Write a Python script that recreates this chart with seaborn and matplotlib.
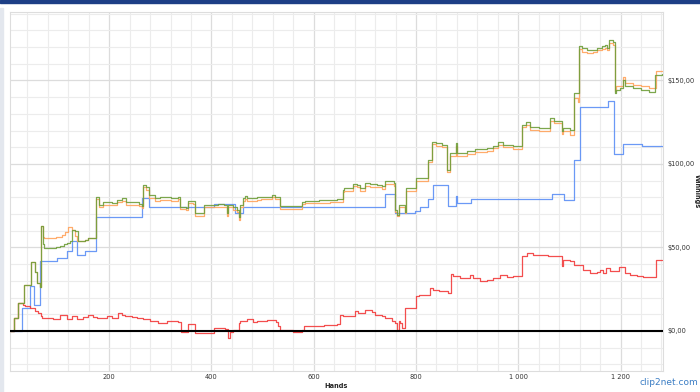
import matplotlib
matplotlib.use("Agg")
import matplotlib.pyplot as plt
from matplotlib.patches import Rectangle
from matplotlib.ticker import MultipleLocator, FixedLocator
import seaborn as sns
import pandas as pd

# ---------------- data ----------------
green_hands = [6, 13, 21, 34, 47, 54, 59, 64, 67, 70, 72, 95, 104, 112, 118, 124, 127, 134, 139, 153,
               159, 170, 175, 180, 188, 205, 215, 225, 232, 250, 258, 264, 266, 272, 277, 290, 300, 320,
               335, 339, 350, 355, 364, 368, 380, 386, 400, 412, 425, 430, 433, 442, 450, 453, 456, 462,
               466, 470, 490, 496, 510, 518, 524, 534, 550, 570, 577, 583, 610, 632, 645, 657, 660, 676,
               684, 691, 700, 710, 723, 733, 740, 756, 759, 762, 767, 778, 781, 800, 824, 831, 840, 850,
               860, 866, 878, 880, 900, 915, 925, 938, 951, 961, 970, 990, 1007, 1015, 1023, 1040, 1062,
               1070, 1085, 1088, 1101, 1109, 1119, 1125, 1135, 1147, 1153, 1163, 1170, 1174, 1178, 1186,
               1189, 1192, 1199, 1205, 1208, 1225, 1240, 1255, 1267, 1282]
green_vals = [0, 8, 16.6, 27.6, 41.1, 35, 28.5, 26.3, 62.6, 52, 49.7, 50.2, 50.6, 51.8, 52.5, 53.6, 60.6,
              59.8, 53.6, 54.5, 55.6, 55.6, 80.5, 75.6, 77.1, 76.8, 78.5, 79.6, 77.1, 77.1, 76.2, 75.1,
              87.4, 86.2, 81.4, 79.6, 80, 79.6, 80.5, 74.5, 73.8, 78, 77.6, 70.6, 70.6, 75.5, 75.5, 75.8,
              75.5, 70.6, 75.5, 74.2, 72.5, 68.1, 75.6, 79.5, 80.9, 79.5, 80, 80.5, 80.5, 81.5, 80.5, 74.9,
              74.6, 74.9, 77.5, 78.1, 78.2, 78.5, 78.9, 84.5, 85.5, 88.1, 87.5, 85.5, 88.5, 87.8, 87.5,
              86.5, 89.5, 88.5, 72.5, 69.6, 75.5, 71.3, 85.5, 91.5, 102.4, 113.4, 112.5, 111.6, 96.6,
              106.6, 112.6, 106.6, 107.6, 109, 109, 109.6, 110.9, 112.9, 111.6, 110.6, 123.5, 125, 122,
              121.5, 127.5, 126, 119.5, 121.5, 120.5, 142.5, 170.8, 169.5, 168, 168.4, 169.4, 170.8,
              171.4, 169.4, 174.4, 172.8, 142.5, 144.5, 145.5, 150.5, 146.5, 145.5, 144, 143, 153.5, 153.9]

orange_hands = [6, 13, 21, 34, 47, 54, 59, 64, 67, 70, 72, 95, 107, 114, 120, 127, 134, 137, 153, 159,
                170, 175, 180, 188, 205, 215, 225, 232, 250, 258, 264, 266, 272, 277, 290, 300, 320, 335,
                339, 350, 355, 364, 368, 380, 386, 400, 412, 425, 430, 433, 442, 450, 453, 456, 462, 466,
                470, 490, 496, 510, 518, 524, 534, 550, 570, 577, 583, 610, 632, 645, 657, 660, 676, 684,
                691, 700, 710, 723, 733, 740, 756, 759, 762, 767, 778, 781, 800, 824, 831, 840, 850, 860,
                866, 878, 880, 900, 915, 925, 938, 951, 961, 970, 990, 1007, 1015, 1023, 1040, 1062, 1070,
                1085, 1088, 1101, 1109, 1117, 1119, 1125, 1135, 1147, 1153, 1163, 1170, 1174, 1178, 1186,
                1189, 1192, 1205, 1208, 1225, 1240, 1255, 1269, 1282]
orange_vals = [0, 8, 16.6, 27.6, 41.1, 35, 28.5, 26.3, 62.6, 56.5, 55.7, 56, 57.6, 59, 62.2, 60.6, 56.6,
               53.6, 54.5, 55.6, 55.6, 79, 74, 75.5, 75.2, 77, 78, 75.5, 75.5, 74.6, 73.5, 86, 84.6, 79.8,
               78, 78.4, 78, 79, 73, 72.2, 76.4, 76, 69, 69, 74, 74, 74.2, 74, 69, 74, 72.6, 71, 66.5, 74,
               78, 79.3, 78, 78.4, 79, 79, 80, 79, 73.3, 73, 73.3, 76, 76.5, 76.6, 77, 77.3, 83, 84, 86.5,
               86, 84, 87, 86.2, 86, 85, 88, 87, 71, 69, 74, 70.5, 84, 90, 101, 111.8, 111, 110, 95, 105,
               111, 105, 106, 107.4, 107.4, 108, 109.3, 111.3, 110, 109, 121.9, 123.4, 120.4, 120, 126,
               124.4, 118, 120, 117.5, 139.5, 137, 168.8, 167, 166.4, 166.8, 168, 169, 169.4, 168.5,
               172.4, 171.4, 143.5, 146.5, 152, 148.5, 147.5, 146.5, 145.5, 155.5, 155.9]

blue_hands = [6, 30, 46, 52, 65, 98, 117, 127, 137, 153, 175, 264, 277, 404, 446, 462, 740, 759, 798,
              808, 824, 833, 862, 879, 881, 907, 1066, 1090, 1109, 1121, 1175, 1187, 1205, 1242, 1282]
blue_vals = [0, 13.8, 26.7, 15.7, 41.7, 43.7, 47.7, 53.7, 45.7, 47.7, 68.3, 79.6, 74, 76, 70.5, 74.3,
             82.1, 70.5, 71.6, 74, 79.2, 87.2, 74.6, 80.6, 76.6, 79.2, 82, 78.6, 102.6, 134, 137.9, 106,
             111.8, 111, 111]

red_hands = [6, 13, 21, 31, 36, 46, 55, 61, 67, 69, 85, 90, 104, 117, 127, 137, 149, 159, 168, 177,
             196, 206, 218, 226, 231, 245, 255, 267, 280, 296, 313, 334, 340, 355, 368, 404, 427, 432,
             436, 443, 453, 456, 469, 482, 489, 508, 526, 531, 534, 560, 577, 580, 600, 620, 645, 652,
             658, 681, 687, 700, 714, 720, 733, 740, 753, 759, 762, 766, 769, 772, 778, 800, 806, 827,
             834, 845, 863, 869, 873, 886, 906, 912, 925, 938, 951, 964, 977, 990, 1007, 1017, 1029,
             1045, 1059, 1085, 1088, 1101, 1108, 1127, 1140, 1153, 1160, 1166, 1172, 1179, 1196, 1209,
             1218, 1232, 1244, 1264, 1269, 1282]
red_vals = [0, 8, 16.6, 15.7, 14.7, 14, 12, 11, 9, 8, 7.8, 7.3, 9.3, 7.2, 8.8, 7, 8.5, 9.8, 8.6, 7.8,
            8.8, 7.8, 10.8, 9.6, 8.8, 8.4, 7.8, 7.4, 5.8, 4.8, 5.8, 5.4, -0.5, 4.4, -1.5, 1.5, 1, -4.2,
            -0.5, 0.5, 4.8, 5.8, 7.2, 5.4, 5.8, 6.8, 5.6, 2.8, 0.4, -0.8, 0.8, 2.8, 3.2, 3.8, 4.2, 9.8,
            8.8, 11.8, 10.8, 12.8, 11.5, 9.8, 9, 7.8, 5.8, 4.8, 0.8, 5.8, 4.8, 1.8, 13.8, 20.8, 21.8,
            25.8, 24.8, 24, 22.8, 33.8, 32.8, 31.7, 33.7, 31.7, 29.7, 30.7, 31.7, 33.7, 32.5, 32.8, 44.7,
            46.7, 45.5, 45.2, 44.7, 38.7, 42.7, 41.7, 39.7, 36.7, 34.7, 35, 36.7, 34.7, 37.7, 35.7, 38.3,
            34.7, 33.7, 33, 32.3, 32, 42.7, 42.7]

x_ticks = [200, 400, 600, 800, 1000, 1200]
x_tick_labels = ["200", "400", "600", "800", "1 000", "1 200"]
y_ticks = [0, 50, 100, 150]
y_tick_labels = ["$0,00", "$50,00", "$100,00", "$150,00"]

# ---------------- figure ----------------
sns.set_theme(style="white")
plt.rcParams["font.family"] = ["DejaVu Sans"]

fig = plt.figure(figsize=(7.0, 3.92), dpi=100)
ax = fig.add_axes([10 / 700, 1 - 371 / 392, 653 / 700, 359 / 392])

# decorations of the page
fig.patches.append(Rectangle((0, 1 - 3 / 392), 1, 3 / 392, transform=fig.transFigure,
                             color="#1d3f86", zorder=0))
fig.patches.append(Rectangle((0, 0), 3 / 700, 1 - 8 / 392, transform=fig.transFigure,
                             color="#e3e7ee", zorder=0))

series = [
    ("blue", blue_hands, blue_vals, "#5b8ef5"),
    ("red", red_hands, red_vals, "#f23b3b"),
    ("orange", orange_hands, orange_vals, "#ffa35c"),
    ("green", green_hands, green_vals, "#6f9e3a"),
]
for name, hx, hv, col in series:
    df = pd.DataFrame({"hands": hx, "value": hv})
    sns.lineplot(data=df, x="hands", y="value", ax=ax, color=col, lw=0.9, alpha=0.9,
                 drawstyle="steps-post", estimator=None, sort=False, zorder=3)

ax.axhline(0, color="black", lw=1.5, zorder=4)

ax.set_xlim(6, 1283)
ax.set_ylim(-24, 191)

ax.xaxis.set_major_locator(FixedLocator(x_ticks))
ax.set_xticklabels(x_tick_labels)
ax.xaxis.set_minor_locator(MultipleLocator(40))
ax.yaxis.set_major_locator(FixedLocator(y_ticks))
ax.yaxis.set_minor_locator(MultipleLocator(10))
ax.yaxis.tick_right()
ax.set_yticklabels(y_tick_labels)

ax.grid(which="minor", color="#ececec", lw=0.8, zorder=0)
ax.grid(which="major", color="#dcdcdc", lw=0.9, zorder=0)
ax.set_axisbelow(True)

ax.tick_params(axis="both", which="both", length=0, labelsize=4.8, colors="#333333")
ax.tick_params(axis="x", pad=2.5)
ax.tick_params(axis="y", pad=3)

for s in ax.spines.values():
    s.set_color("#dddddd")
    s.set_linewidth(0.8)

ax.set_xlabel("Hands", fontsize=4.8, fontweight="bold", labelpad=1.5)
ax.yaxis.set_label_position("right")
ax.set_ylabel("Winnings", fontsize=4.8, fontweight="bold", rotation=270, labelpad=4)

fig.text(0.998, 0.012, "clip2net.com", ha="right", va="bottom", fontsize=6.5, color="#3b7dc4")

fig.savefig("out.png", dpi=100)
